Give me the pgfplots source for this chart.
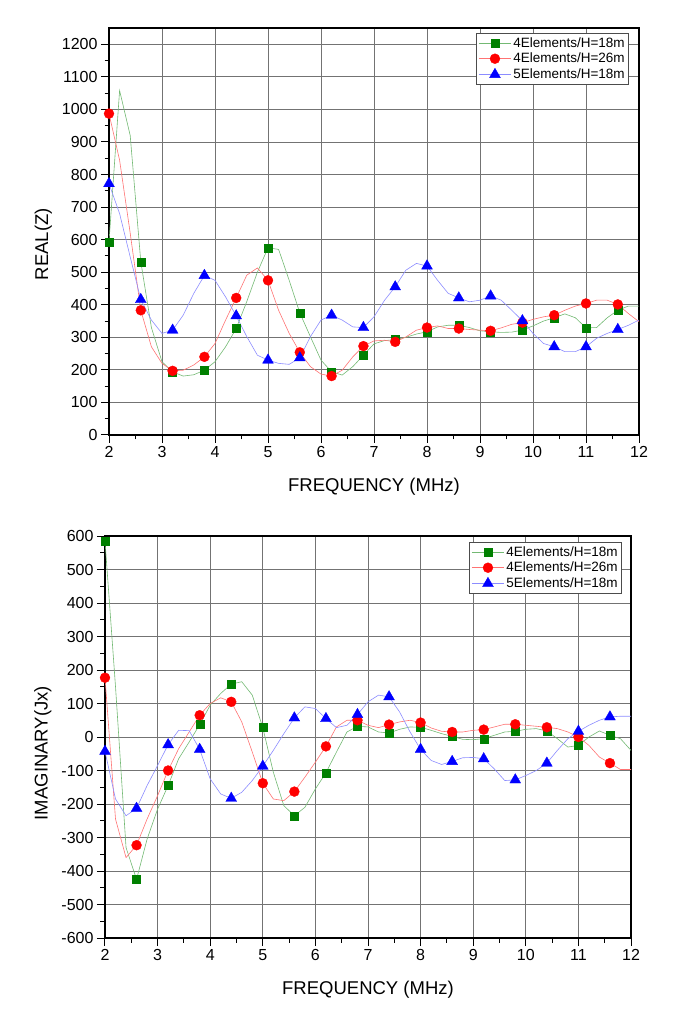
\documentclass[border=0pt]{standalone}
\usepackage{pgfplots}
\usepackage{pgfplotstable}
\pgfplotsset{compat=1.18}
\usepackage{fontspec}
\setmainfont{Liberation Sans}
\definecolor{mgreen}{RGB}{0,128,0}
\definecolor{mred}{RGB}{255,0,0}
\definecolor{mblue}{RGB}{0,0,255}

\pgfplotstableread{
x g r b
2.0 593 987 772
2.2 1058 844 680
2.4 920 620 547
2.6 532 383 416
2.8 330 271 353
3.0 225 220 312
3.2 194 197 322
3.4 181 199 368
3.6 185 215 435
3.8 199 240 490
4.0 225 281 475
4.2 271 353 424
4.4 327 421 366
4.6 410 491 302
4.8 500 513 245
5.0 575 475 230
5.2 570 383 220
5.4 475 312 217
5.6 375 254 237
5.8 302 210 302
6.0 230 187 353
6.2 194 181 368
6.4 184 199 353
6.6 210 240 332
6.8 245 273 330
7.0 280 289 363
7.2 290 291 414
7.4 293 286 455
7.6 300 301 506
7.8 310 322 527
8.0 317 330 519
8.2 332 335 475
8.4 337 327 435
8.6 337 327 421
8.8 330 324 409
9.0 320 322 414
9.2 317 320 427
9.4 315 329 414
9.6 316 340 383
9.8 322 345 351
10.0 335 355 312
10.2 350 363 281
10.4 360 368 271
10.6 372 383 256
10.8 360 396 256
11.0 329 404 271
11.2 330 414 297
11.4 360 414 312
11.6 383 401 324
11.8 396 373 337
12.0 396 348 353
}\realdata

\pgfplotstableread{
x g r b
2.0 585 177 -43
2.2 150 -245 -185
2.4 -330 -360 -235
2.6 -425 -323 -213
2.8 -305 -245 -145
3.0 -215 -175 -85
3.2 -145 -100 -23
3.4 -65 -35 20
3.6 -15 15 19
3.8 37 65 -37
4.0 95 100 -125
4.2 130 117 -170
4.4 158 105 -183
4.6 165 45 -165
4.8 125 -45 -130
5.0 28 -138 -87
5.2 -105 -185 -40
5.4 -205 -190 10
5.6 -235 -163 57
5.8 -210 -120 90
6.0 -155 -75 85
6.2 -107 -28 55
6.4 -45 30 28
6.6 15 50 35
6.8 32 50 67
7.0 30 35 105
7.2 15 28 125
7.4 12 37 120
7.6 23 45 75
7.8 30 50 15
8.0 29 43 -37
8.2 20 27 -70
8.4 10 17 -82
8.6 2 15 -73
8.8 -7 15 -62
9.0 -8 20 -61
9.2 -5 22 -65
9.4 5 30 -95
9.6 15 38 -130
9.8 17 38 -128
10.0 23 35 -115
10.2 25 32 -100
10.4 18 29 -78
10.6 -5 25 -40
10.8 -30 15 -5
11.0 -25 0 17
11.2 0 -25 35
11.4 18 -60 50
11.6 5 -78 60
11.8 -5 -97 62
12.0 -40 -97 62
}\imagdata

\pgfplotsset{
  myaxis/.style={
    scale only axis,
    anchor=south west,
    xmin=2, xmax=12,
    xtick={2,3,...,12},
    minor x tick num=1,
    minor y tick num=1,
    xtick pos=lower, ytick pos=left,
    tick align=outside,
    major tick length=8pt,
    minor tick length=4.5pt,
    every tick/.style={black, line width=1pt},
    axis line style={line width=1.3pt},
    grid=major,
    major grid style={black!55, line width=0.8pt},
    tick label style={font=\fontsize{16}{18}\selectfont},
    /pgf/number format/assume math mode=true,
    /pgf/number format/1000 sep={},
    label style={font=\fontsize{18.5}{22}\selectfont},
    legend style={font=\fontsize{13.5}{16}\selectfont, draw=black!70, line width=0.6pt,
      anchor=north east, row sep=0.5pt, inner sep=2pt},
    legend cell align=left,
    legend image code/.code={\draw[mark repeat=2,mark phase=2,##1] plot coordinates {(0pt,0pt)(16pt,0pt)(32pt,0pt)};},
  },
  gser/.style={color=mgreen!55, line width=0.6pt, mark=square*, mark size=4pt, mark repeat=3,
    mark options={fill=mgreen, draw=mgreen, line width=0.3pt}},
  rser/.style={color=mred!55, line width=0.6pt, mark=*, mark size=5pt, mark repeat=3,
    mark options={fill=mred, draw=mred, line width=0.3pt}},
  bser/.style={color=mblue!45, line width=0.6pt, mark=triangle*, mark size=6.3pt, mark repeat=3,
    mark options={fill=mblue, draw=mblue, line width=0.3pt}},
}

\begin{document}
\begin{tikzpicture}
\useasboundingbox (0,0) rectangle (675pt,1021pt);
\begin{axis}[myaxis,
  at={(109pt,586pt)}, width=530pt, height=407pt,
  ymin=0, ymax=1250, ytick={0,100,...,1200},
  xlabel={FREQUENCY (MHz)}, ylabel={REAL(Z)},
  xlabel style={at={(axis description cs:0.5,-0.128)}, anchor=center},
  ylabel style={at={(axis description cs:-0.124,0.469)}, anchor=center},
  legend style={at={(axis description cs:1,1)}, xshift=-10pt, yshift=-5pt},
]
\addplot[gser] table[x=x,y=g] {\realdata};
\addlegendentry{4Elements/H=18m}
\addplot[rser] table[x=x,y=r] {\realdata};
\addlegendentry{4Elements/H=26m}
\addplot[bser] table[x=x,y=b] {\realdata};
\addlegendentry{5Elements/H=18m}
\end{axis}
\begin{axis}[myaxis,
  at={(105pt,83pt)}, width=526pt, height=402pt,
  ymin=-600, ymax=600, ytick={-600,-500,...,600},
  xlabel={FREQUENCY (MHz)}, ylabel={IMAGINARY(Jx)},
  xlabel style={at={(axis description cs:0.5,-0.129)}, anchor=center},
  ylabel style={at={(axis description cs:-0.118,0.46)}, anchor=center},
  legend style={at={(axis description cs:1,1)}, xshift=-9pt, yshift=-6pt},
]
\addplot[gser] table[x=x,y=g] {\imagdata};
\addlegendentry{4Elements/H=18m}
\addplot[rser] table[x=x,y=r] {\imagdata};
\addlegendentry{4Elements/H=26m}
\addplot[bser] table[x=x,y=b] {\imagdata};
\addlegendentry{5Elements/H=18m}
\end{axis}
\end{tikzpicture}
\end{document}
